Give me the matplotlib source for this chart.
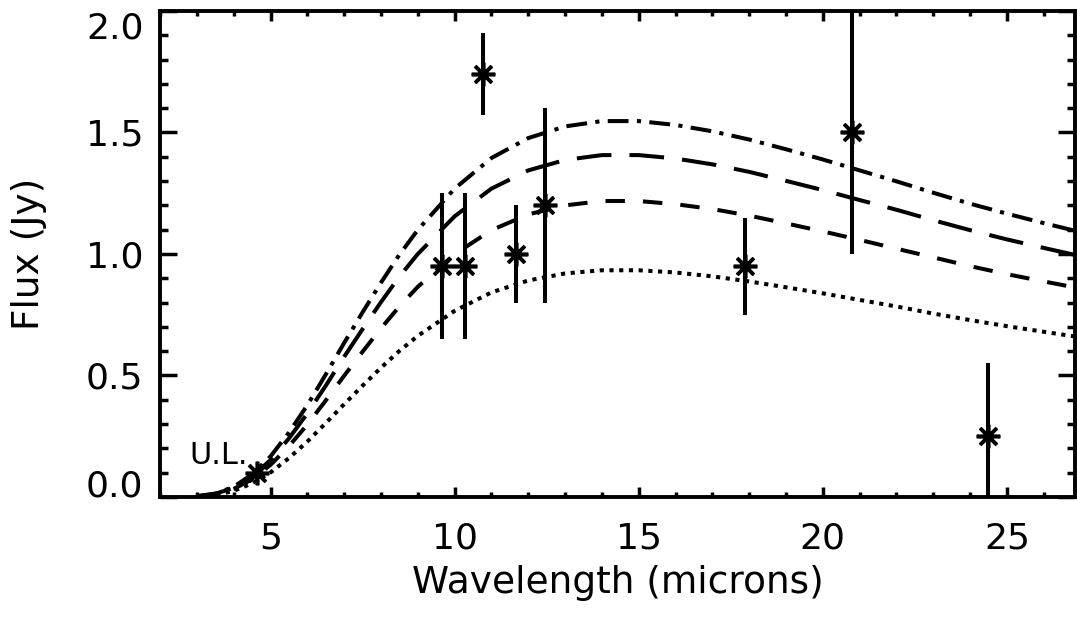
import matplotlib.pyplot as plt
from matplotlib.ticker import MultipleLocator

plt.rcParams['font.family'] = 'DejaVu Sans'
plt.rcParams['lines.scale_dashes'] = False

# model curves (wavelength in microns, flux in Jy)
wavelength = [3.0, 3.5, 4.0, 4.5, 5.0, 5.5, 6.0, 6.5, 7.0, 7.5, 8.0, 8.5, 9.0,
              10, 11, 12, 13, 14, 15, 16, 17, 18, 19, 20, 21, 22, 23, 24, 25, 26, 27]
flux_dashdot = [0.003, 0.014, 0.042, 0.093, 0.167, 0.265, 0.378, 0.504, 0.634, 0.760, 0.882, 0.997, 1.099,
                1.269, 1.395, 1.477, 1.525, 1.547, 1.547, 1.531, 1.505, 1.471, 1.431, 1.389, 1.344, 1.299,
                1.252, 1.207, 1.166, 1.127, 1.090]
flux_longdash = [0.003, 0.013, 0.038, 0.085, 0.152, 0.241, 0.344, 0.458, 0.577, 0.691, 0.802, 0.907, 1.000,
                 1.155, 1.269, 1.344, 1.387, 1.407, 1.407, 1.393, 1.369, 1.338, 1.301, 1.263, 1.222, 1.182,
                 1.139, 1.098, 1.060, 1.025, 0.991]
flux_dash = [0.002, 0.011, 0.033, 0.073, 0.132, 0.209, 0.298, 0.397, 0.499, 0.598, 0.694, 0.784, 0.865,
             0.999, 1.098, 1.163, 1.200, 1.218, 1.218, 1.205, 1.185, 1.158, 1.126, 1.093, 1.058, 1.022,
             0.986, 0.950, 0.917, 0.887, 0.858]
flux_dotted = [0.002, 0.008, 0.025, 0.056, 0.101, 0.160, 0.228, 0.304, 0.382, 0.458, 0.532, 0.601, 0.663,
               0.766, 0.842, 0.891, 0.920, 0.933, 0.933, 0.924, 0.908, 0.887, 0.863, 0.838, 0.811, 0.784,
               0.755, 0.728, 0.703, 0.680, 0.657]

# measured points with errors
obs_wave = [4.62, 9.66, 10.27, 10.77, 11.66, 12.46, 17.88, 20.78, 24.49]
obs_flux = [0.10, 0.95, 0.95, 1.74, 1.00, 1.20, 0.95, 1.50, 0.25]
obs_err = [0.0, 0.30, 0.30, 0.17, 0.20, 0.40, 0.20, 0.50, 0.30]

fig = plt.figure(figsize=(10.77, 6.18), dpi=100)
ax = fig.add_axes([0.1486, 0.1958, 0.8496, 0.7864])

lw = 2.9
ax.plot(wavelength, flux_dashdot, color='black', lw=lw, dashes=(15, 6, 3, 6))
ax.plot(wavelength, flux_longdash, color='black', lw=lw, dashes=(25, 13))
ax.plot(wavelength, flux_dash, color='black', lw=lw, dashes=(14, 13))
ax.plot(wavelength, flux_dotted, color='black', lw=lw, dashes=(3, 4))

ax.errorbar(obs_wave, obs_flux, yerr=obs_err, fmt='none', ecolor='black', elinewidth=lw, capsize=0)
ax.plot(obs_wave, obs_flux, ls='none', marker=(8, 2, 0), ms=17, mew=2.6, color='black')

ax.text(2.8, 0.136, 'U.L.', fontsize=22)

ax.set_xlim(2, 26.85)
ax.set_ylim(0, 2.0)
ax.set_xticks([5, 10, 15, 20, 25])
ax.xaxis.set_minor_locator(MultipleLocator(1))
ax.set_yticks([0.0, 0.5, 1.0, 1.5, 2.0])
ax.set_yticklabels(['0.0', '0.5', '1.0', '1.5', '2.0'])
ax.yaxis.set_minor_locator(MultipleLocator(0.1))

ax.tick_params(which='both', direction='in', top=True, right=True, width=2.5, labelsize=26)
ax.tick_params(axis='x', which='major', length=7, pad=18)
ax.tick_params(axis='x', which='minor', length=3.5)
ax.tick_params(axis='y', which='major', length=12, pad=12)
ax.tick_params(axis='y', which='minor', length=6)
for s in ax.spines.values():
    s.set_linewidth(2.8)

ylabs = ax.get_yticklabels()
ylabs[0].set_va('baseline')
ylabs[-1].set_va('top')

ax.set_xlabel('Wavelength (microns)', fontsize=27)
ax.xaxis.set_label_coords(0.5, -0.14)
ax.set_ylabel('Flux (Jy)', fontsize=27)
ax.yaxis.set_label_coords(-0.124, 0.5)

fig.savefig('out.png', dpi=100)
